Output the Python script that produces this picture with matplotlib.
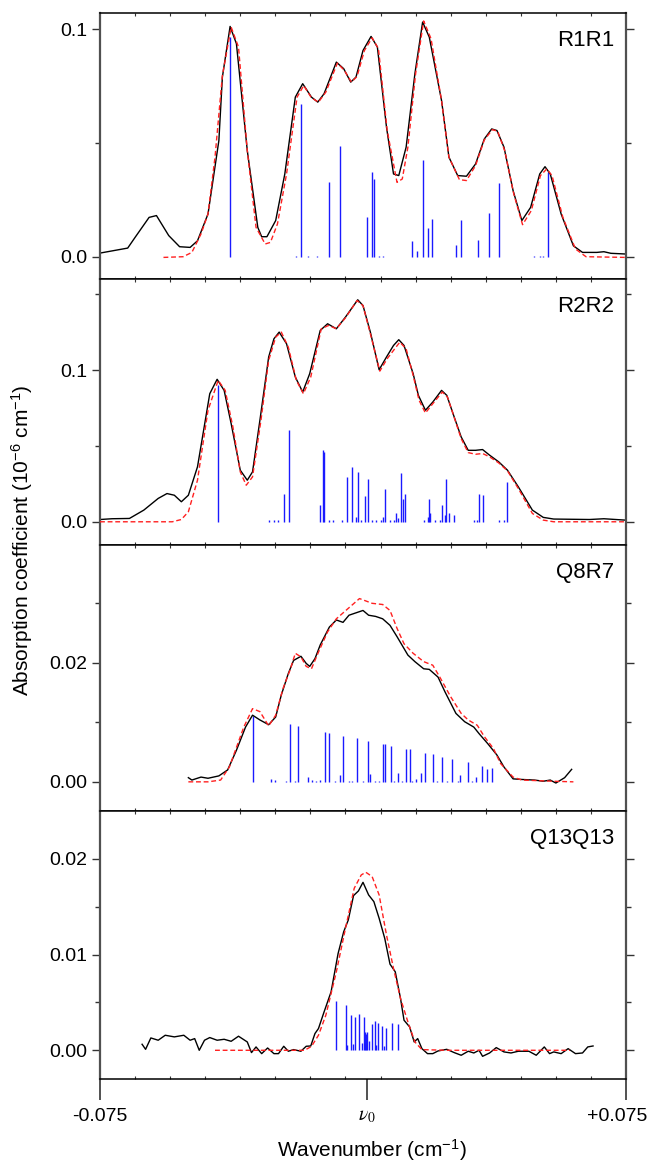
import matplotlib
matplotlib.use('Agg')
import matplotlib.pyplot as plt
from matplotlib.ticker import FixedLocator

plt.rcParams['font.family'] = ['Liberation Sans', 'DejaVu Sans']
plt.rcParams['mathtext.fontset'] = 'custom'
plt.rcParams['mathtext.rm'] = 'Liberation Sans'
plt.rcParams['mathtext.it'] = 'Liberation Sans:italic'
plt.rcParams['mathtext.bf'] = 'Liberation Sans:bold'

# ---------------- data (wavenumber offset in cm^-1, absorption in 1e-6 cm^-1) ----------------
panel_names = ['R1R1', 'R2R2', 'Q8R7', 'Q13Q13']

# R1R1
r1_obs_x = [-0.0750, -0.0671, -0.0650, -0.0610, -0.0589, -0.0554, -0.0523, -0.0493, -0.0472, -0.0442,
            -0.0411, -0.0401, -0.0379, -0.0361, -0.0330, -0.0300, -0.0289, -0.0274, -0.0249, -0.0223,
            -0.0193, -0.0172, -0.0147, -0.0129, -0.0111, -0.0076, -0.0055, -0.0035, -0.0020, 0.0000,
            0.0023, 0.0041, 0.0067, 0.0087, 0.0102, 0.0123, 0.0148, 0.0170, 0.0189, 0.0224,
            0.0245, 0.0270, 0.0295, 0.0321, 0.0346, 0.0367, 0.0382, 0.0402, 0.0428, 0.0453,
            0.0478, 0.0504, 0.0519, 0.0534, 0.0565, 0.0600, 0.0626, 0.0667, 0.0687, 0.0707, 0.0748]
r1_obs_y = [0.0016, 0.0038, 0.0085, 0.0173, 0.0181, 0.0093, 0.0044, 0.0041, 0.0070, 0.0188,
            0.0511, 0.0790, 0.1013, 0.0937, 0.0467, 0.0129, 0.0088, 0.0088, 0.0159, 0.0364,
            0.0702, 0.0761, 0.0702, 0.0680, 0.0717, 0.0856, 0.0827, 0.0768, 0.0790, 0.0907,
            0.0969, 0.0922, 0.0570, 0.0364, 0.0357, 0.0482, 0.0805, 0.1032, 0.0966, 0.0687,
            0.0438, 0.0357, 0.0354, 0.0408, 0.0518, 0.0562, 0.0555, 0.0482, 0.0291, 0.0159,
            0.0217, 0.0364, 0.0396, 0.0364, 0.0188, 0.0048, 0.0019, 0.0019, 0.0022, 0.0015, 0.0012]
r1_fit_x = [-0.0569, -0.0513, -0.0488, -0.0462, -0.0442, -0.0422, -0.0401, -0.0376, -0.0355, -0.0330,
            -0.0305, -0.0279, -0.0264, -0.0244, -0.0218, -0.0188, -0.0169, -0.0147, -0.0127, -0.0106,
            -0.0073, -0.0053, -0.0033, -0.0017, 0.0004, 0.0026, 0.0044, 0.0069, 0.0097, 0.0112,
            0.0128, 0.0150, 0.0173, 0.0194, 0.0224, 0.0245, 0.0275, 0.0295, 0.0321, 0.0346,
            0.0369, 0.0384, 0.0404, 0.0430, 0.0455, 0.0480, 0.0506, 0.0524, 0.0539, 0.0570,
            0.0606, 0.0636, 0.0748]
r1_fit_y = [-0.0003, 0.0000, 0.0019, 0.0100, 0.0188, 0.0438, 0.0797, 0.1010, 0.0922, 0.0467,
            0.0129, 0.0056, 0.0063, 0.0144, 0.0364, 0.0702, 0.0753, 0.0699, 0.0680, 0.0724,
            0.0852, 0.0819, 0.0768, 0.0793, 0.0907, 0.0963, 0.0915, 0.0555, 0.0327, 0.0342,
            0.0482, 0.0805, 0.1037, 0.0959, 0.0687, 0.0438, 0.0339, 0.0335, 0.0401, 0.0514,
            0.0559, 0.0552, 0.0467, 0.0276, 0.0141, 0.0203, 0.0357, 0.0386, 0.0357, 0.0173,
            0.0034, 0.0000, -0.0003]
r1_stick_x = [-0.0379, -0.0190, -0.0177, -0.0157, -0.0130, -0.0096, -0.0066, 0.0012, 0.0025, 0.0031,
              0.0046, 0.0056, 0.0140, 0.0153, 0.0170, 0.0185, 0.0198, 0.0265, 0.0280, 0.0328,
              0.0359, 0.0387, 0.0489, 0.0504, 0.0514, 0.0527]
r1_stick_h = [0.0966, 0.0005, 0.0670, 0.0005, 0.0005, 0.0327, 0.0489, 0.0173, 0.0372, 0.0342,
              0.0005, 0.0005, 0.0068, 0.0023, 0.0426, 0.0126, 0.0166, 0.0053, 0.0163, 0.0073,
              0.0194, 0.0323, 0.0004, 0.0004, 0.0004, 0.0372]

# R2R2
r2_obs_x = [-0.0750, -0.0716, -0.0666, -0.0625, -0.0584, -0.0559, -0.0538, -0.0518, -0.0498, -0.0472,
            -0.0437, -0.0416, -0.0396, -0.0376, -0.0350, -0.0330, -0.0315, -0.0294, -0.0269, -0.0254,
            -0.0239, -0.0218, -0.0193, -0.0172, -0.0152, -0.0122, -0.0101, -0.0076, -0.0050, -0.0015,
            0.0000, 0.0021, 0.0046, 0.0067, 0.0087, 0.0102, 0.0117, 0.0143, 0.0158, 0.0178,
            0.0199, 0.0224, 0.0239, 0.0260, 0.0280, 0.0300, 0.0321, 0.0341, 0.0361, 0.0387,
            0.0412, 0.0443, 0.0483, 0.0514, 0.0544, 0.0646, 0.0687, 0.0748]
r2_obs_y = [0.0015, 0.0020, 0.0022, 0.0077, 0.0154, 0.0186, 0.0175, 0.0132, 0.0175, 0.0362,
            0.0844, 0.0939, 0.0866, 0.0647, 0.0340, 0.0274, 0.0329, 0.0669, 0.1086, 0.1206,
            0.1250, 0.1173, 0.0954, 0.0855, 0.0976, 0.1261, 0.1305, 0.1272, 0.1349, 0.1463,
            0.1425, 0.1250, 0.1002, 0.1086, 0.1162, 0.1200, 0.1162, 0.0976, 0.0833, 0.0735,
            0.0789, 0.0866, 0.0833, 0.0691, 0.0559, 0.0471, 0.0471, 0.0476, 0.0439, 0.0395,
            0.0340, 0.0230, 0.0077, 0.0029, 0.0018, 0.0015, 0.0020, 0.0011]
r2_fit_x = [-0.0750, -0.0544, -0.0518, -0.0498, -0.0472, -0.0442, -0.0413, -0.0393, -0.0371, -0.0350,
            -0.0333, -0.0315, -0.0291, -0.0269, -0.0249, -0.0233, -0.0213, -0.0190, -0.0170, -0.0149,
            -0.0119, -0.0098, -0.0076, -0.0050, -0.0017, 0.0000, 0.0021, 0.0048, 0.0069, 0.0105,
            0.0123, 0.0143, 0.0160, 0.0178, 0.0199, 0.0226, 0.0241, 0.0280, 0.0300, 0.0321,
            0.0341, 0.0361, 0.0387, 0.0412, 0.0443, 0.0483, 0.0514, 0.0544, 0.0748]
r2_fit_y = [0.0000, 0.0000, 0.0015, 0.0066, 0.0274, 0.0735, 0.0932, 0.0866, 0.0625, 0.0329,
            0.0241, 0.0296, 0.0669, 0.1064, 0.1217, 0.1250, 0.1151, 0.0932, 0.0844, 0.0954,
            0.1272, 0.1294, 0.1272, 0.1344, 0.1458, 0.1425, 0.1239, 0.0993, 0.1075, 0.1184,
            0.1140, 0.0965, 0.0800, 0.0717, 0.0778, 0.0855, 0.0822, 0.0548, 0.0456, 0.0445,
            0.0450, 0.0428, 0.0388, 0.0336, 0.0219, 0.0055, 0.0011, 0.0000, 0.0000]
r2_stick_x = [-0.0414, -0.0269, -0.0254, -0.0242, -0.0225, -0.0210, -0.0122, -0.0114, -0.0111, -0.0096,
              -0.0086, -0.0061, -0.0045, -0.0032, -0.0020, -0.0014, -0.0005, 0.0006, 0.0015, 0.0026,
              0.0036, 0.0051, 0.0058, 0.0062, 0.0077, 0.0087, 0.0095, 0.0099, 0.0109, 0.0115,
              0.0119, 0.0173, 0.0184, 0.0187, 0.0190, 0.0204, 0.0219, 0.0226, 0.0234, 0.0237,
              0.0246, 0.0260, 0.0316, 0.0326, 0.0331, 0.0341, 0.0387, 0.0402, 0.0410]
r2_stick_h = [0.0899, 0.0010, 0.0010, 0.0010, 0.0186, 0.0603, 0.0110, 0.0471, 0.0461, 0.0010,
              0.0010, 0.0011, 0.0292, 0.0362, 0.0033, 0.0325, 0.0010, 0.0169, 0.0281, 0.0010,
              0.0010, 0.0010, 0.0033, 0.0215, 0.0010, 0.0010, 0.0059, 0.0022, 0.0322, 0.0149,
              0.0182, 0.0010, 0.0033, 0.0149, 0.0055, 0.0010, 0.0010, 0.0110, 0.0044, 0.0281,
              0.0061, 0.0044, 0.0010, 0.0010, 0.0182, 0.0175, 0.0010, 0.0010, 0.0261]

# Q8R7
q8_obs_x = [-0.0498, -0.0488, -0.0462, -0.0442, -0.0411, -0.0386, -0.0361, -0.0335, -0.0315, -0.0294,
            -0.0269, -0.0249, -0.0233, -0.0213, -0.0198, -0.0177, -0.0162, -0.0152, -0.0137, -0.0122,
            -0.0096, -0.0076, -0.0057, -0.0040, -0.0020, 0.0000, 0.0016, 0.0036, 0.0056, 0.0077,
            0.0097, 0.0128, 0.0148, 0.0173, 0.0189, 0.0214, 0.0234, 0.0265, 0.0290, 0.0316,
            0.0331, 0.0356, 0.0382, 0.0402, 0.0428, 0.0453, 0.0489, 0.0514, 0.0534, 0.0550,
            0.0575, 0.0595]
q8_obs_y = [0.0007, 0.0003, 0.0008, 0.0006, 0.0010, 0.0020, 0.0053, 0.0092, 0.0112, 0.0104,
            0.0096, 0.0109, 0.0146, 0.0182, 0.0204, 0.0211, 0.0199, 0.0194, 0.0207, 0.0230,
            0.0260, 0.0272, 0.0268, 0.0280, 0.0284, 0.0288, 0.0280, 0.0278, 0.0274, 0.0263,
            0.0244, 0.0213, 0.0202, 0.0190, 0.0189, 0.0176, 0.0151, 0.0115, 0.0101, 0.0092,
            0.0081, 0.0064, 0.0045, 0.0025, 0.0005, 0.0004, 0.0003, 0.0001, 0.0003, -0.0002,
            0.0007, 0.0021]
q8_fit_x = [-0.0498, -0.0442, -0.0406, -0.0381, -0.0340, -0.0315, -0.0294, -0.0269, -0.0249, -0.0228,
            -0.0208, -0.0193, -0.0177, -0.0162, -0.0147, -0.0127, -0.0101, -0.0076, -0.0045, -0.0010,
            0.0026, 0.0056, 0.0077, 0.0097, 0.0117, 0.0143, 0.0173, 0.0199, 0.0219, 0.0250,
            0.0280, 0.0300, 0.0326, 0.0346, 0.0372, 0.0392, 0.0428, 0.0453, 0.0544, 0.0600]
q8_fit_y = [0.0000, 0.0000, 0.0003, 0.0025, 0.0092, 0.0123, 0.0118, 0.0094, 0.0112, 0.0157,
            0.0188, 0.0216, 0.0210, 0.0194, 0.0190, 0.0218, 0.0252, 0.0274, 0.0290, 0.0308,
            0.0300, 0.0298, 0.0288, 0.0258, 0.0232, 0.0216, 0.0202, 0.0196, 0.0176, 0.0143,
            0.0115, 0.0104, 0.0095, 0.0076, 0.0056, 0.0031, 0.0008, 0.0003, 0.0001, 0.0000]
q8_stick_x = [-0.0313, -0.0262, -0.0251, -0.0220, -0.0208, -0.0195, -0.0186, -0.0157, -0.0145, -0.0135,
              -0.0122, -0.0108, -0.0096, -0.0080, -0.0066, -0.0057, -0.0040, -0.0030, -0.0018, 0.0000,
              0.0015, 0.0021, 0.0035, 0.0045, 0.0058, 0.0064, 0.0079, 0.0088, 0.0099, 0.0110,
              0.0122, 0.0135, 0.0140, 0.0151, 0.0166, 0.0176, 0.0199, 0.0210, 0.0224, 0.0240,
              0.0253, 0.0270, 0.0277, 0.0299, 0.0310, 0.0321, 0.0338, 0.0353, 0.0369]
q8_stick_h = [0.0110, 0.0004, 0.0003, 0.0002, 0.0097, 0.0002, 0.0094, 0.0008, 0.0003, 0.0002,
              0.0003, 0.0084, 0.0082, 0.0002, 0.0011, 0.0077, 0.0002, 0.0002, 0.0073, 0.0002,
              0.0068, 0.0014, 0.0002, 0.0002, 0.0063, 0.0063, 0.0060, 0.0002, 0.0015, 0.0002,
              0.0055, 0.0055, 0.0002, 0.0004, 0.0015, 0.0048, 0.0046, 0.0002, 0.0042, 0.0002,
              0.0039, 0.0002, 0.0011, 0.0034, 0.0002, 0.0008, 0.0027, 0.0021, 0.0024]

# Q13Q13
q13_obs_x = [-0.0630, -0.0620, -0.0605, -0.0584, -0.0564, -0.0538, -0.0511, -0.0493, -0.0480, -0.0467,
             -0.0452, -0.0437, -0.0416, -0.0396, -0.0376, -0.0355, -0.0330, -0.0318, -0.0305, -0.0289,
             -0.0272, -0.0254, -0.0241, -0.0226, -0.0213, -0.0198, -0.0177, -0.0162, -0.0149, -0.0137,
             -0.0127, -0.0111, -0.0091, -0.0071, -0.0055, -0.0042, -0.0027, -0.0013, 0.0000, 0.0016,
             0.0031, 0.0046, 0.0062, 0.0077, 0.0092, 0.0107, 0.0117, 0.0133, 0.0146, 0.0156,
             0.0168, 0.0184, 0.0199, 0.0214, 0.0239, 0.0260, 0.0280, 0.0300, 0.0316, 0.0331,
             0.0341, 0.0361, 0.0380, 0.0402, 0.0422, 0.0443, 0.0473, 0.0494, 0.0517, 0.0532,
             0.0544, 0.0565, 0.0585, 0.0606, 0.0626, 0.0641, 0.0656]
q13_obs_y = [0.00063, 0.00010, 0.00129, 0.00105, 0.00157, 0.00140, 0.00157, 0.00105, 0.00122, 0.00000,
             0.00105, 0.00133, 0.00105, 0.00115, 0.00094, 0.00147, 0.00087, -0.00024, 0.00035, -0.00035,
             0.00024, -0.00035, -0.00035, 0.00042, -0.00010, 0.00007, -0.00010, 0.00042, 0.00045, 0.00175,
             0.00227, 0.00401, 0.00611, 0.01012, 0.01239, 0.01361, 0.01616, 0.01665, 0.01755, 0.01623,
             0.01553, 0.01379, 0.01169, 0.00900, 0.00820, 0.00541, 0.00314, 0.00244, 0.00087, 0.00122,
             0.00017, -0.00035, -0.00035, -0.00007, 0.00010, -0.00024, -0.00052, -0.00010, -0.00028, 0.00000,
             -0.00063, -0.00028, 0.00028, -0.00017, -0.00028, -0.00010, -0.00010, -0.00052, 0.00035, -0.00035,
             -0.00017, -0.00035, 0.00017, -0.00035, -0.00028, 0.00035, 0.00045]
q13_fit_x = [-0.0422, -0.0167, -0.0147, -0.0127, -0.0106, -0.0076, -0.0050, -0.0025, -0.0005, 0.0008,
             0.0026, 0.0046, 0.0067, 0.0087, 0.0107, 0.0128, 0.0148, 0.0168, 0.0239, 0.0590]
q13_fit_y = [0.0000, 0.0000, 0.0004, 0.00157, 0.00366, 0.0082, 0.01274, 0.01693, 0.01832, 0.0186,
             0.01815, 0.01623, 0.01204, 0.00855, 0.00541, 0.00297, 0.00087, 0.00007, 0.0000, 0.0000]
q13_stick_x = [-0.0076, -0.0049, -0.0045, -0.0033, -0.0028, -0.0022, -0.0011, -0.0004, 0.0002, 0.0006,
               0.0009, 0.0012, 0.0018, 0.0026, 0.0033, 0.0038, 0.0044, 0.0054, 0.0060, 0.0065,
               0.0084, 0.0099]
q13_stick_h = [0.0052, 0.0047, 0.0006, 0.0037, 0.0007, 0.0035, 0.0038, 0.0008, 0.0035, 0.0019,
               0.0017, 0.0019, 0.0010, 0.0027, 0.0031, 0.0006, 0.0029, 0.0025, 0.0005, 0.0023,
               0.0029, 0.0027]

# axis tick values / labels
y_major = [[0.0, 0.1], [0.0, 0.1], [0.00, 0.02], [0.00, 0.01, 0.02]]
y_major_labels = [['0.0', '0.1'], ['0.0', '0.1'], ['0.00', '0.02'], ['0.00', '0.01', '0.02']]
y_minor = [[0.05], [0.05, 0.15], [0.01, 0.03], [0.005, 0.015]]
y_limits = [(-0.0098, 0.1072), (-0.0153, 0.1600), (-0.0049, 0.0398), (-0.0030, 0.0250)]
x_limits = (-0.075, 0.075)
x_major = [-0.075, 0.0011, 0.075]
x_labels = ['-0.075', r'$\nu_0$', '+0.075']
x_minor = [-0.065, -0.055, -0.045, -0.035, -0.025, -0.015, -0.005,
           0.005, 0.015, 0.025, 0.035, 0.045, 0.055, 0.065]

panels = [
    (r1_obs_x, r1_obs_y, r1_fit_x, r1_fit_y, r1_stick_x, r1_stick_h),
    (r2_obs_x, r2_obs_y, r2_fit_x, r2_fit_y, r2_stick_x, r2_stick_h),
    (q8_obs_x, q8_obs_y, q8_fit_x, q8_fit_y, q8_stick_x, q8_stick_h),
    (q13_obs_x, q13_obs_y, q13_fit_x, q13_fit_y, q13_stick_x, q13_stick_h),
]

# ---------------- figure ----------------
W, H = 650, 1165
fig = plt.figure(figsize=(W / 100, H / 100), dpi=100)
ax_left, ax_right = 100, 626
tops = [13, 279, 545, 811]
bottoms = [279, 545, 811, 1079]
spine_gray = '#505050'
fs = 14

axes = []
for i, (t, b) in enumerate(zip(tops, bottoms)):
    ax = fig.add_axes([ax_left / W, 1 - b / H, (ax_right - ax_left) / W, (b - t) / H])
    axes.append(ax)
    ox, oy, fx, fy, sx, sh = panels[i]
    ax.vlines(sx, 0, sh, color='#1a1aff', lw=1.0, zorder=1)
    ax.plot(ox, oy, color='black', lw=1.0, zorder=2)
    ax.plot(fx, fy, color='#ff2020', lw=1.0, ls=(0, (3.5, 2)), zorder=3)
    ax.set_xlim(*x_limits)
    ax.set_ylim(*y_limits[i])

    ax.set_yticks(y_major[i])
    ax.set_yticklabels(y_major_labels[i], fontsize=fs)
    ax.yaxis.set_minor_locator(FixedLocator(y_minor[i]))
    ax.tick_params(axis='y', which='major', direction='out', length=6, width=1.0,
                   left=True, right=True, labelleft=True, labelright=False,
                   color='#333333', pad=3)
    ax.tick_params(axis='y', which='minor', direction='out', length=3.5, width=1.0,
                   left=True, right=True, color='#333333')

    ax.xaxis.set_minor_locator(FixedLocator(x_minor))
    ax.tick_params(axis='x', which='minor', direction='in', length=2.5, width=0.8,
                   top=True, bottom=True, color='#333333')
    if i < 3:
        ax.set_xticks([])
    else:
        ax.set_xticks(x_major)
        ax.set_xticklabels([''] * len(x_major))
        ax.tick_params(axis='x', which='major', direction='out', length=15, width=1.2,
                       bottom=True, top=False, color='#333333')
        # tick labels placed just below the long ticks (last one nudged inside the figure)
        offsets = [0, 0, -6]
        for xv, lab, dx in zip(x_major, x_labels, offsets):
            kw = dict(math_fontfamily='stix') if lab.startswith('$') else {}
            ax.annotate(lab, xy=(xv, 0), xycoords=('data', 'axes fraction'),
                        xytext=(dx, -21), textcoords='offset points', ha='center', va='top',
                        fontsize=fs, **kw)

    for side in ('left', 'right'):
        ax.spines[side].set_color(spine_gray)
        ax.spines[side].set_linewidth(1.6)
    for side in ('top', 'bottom'):
        ax.spines[side].set_color('black')
        ax.spines[side].set_linewidth(1.1)

    ax.text(0.977, 0.935, panel_names[i], transform=ax.transAxes, ha='right', va='top',
            fontsize=16)

fig.text(372 / W, 1 - 1150 / H, 'Wavenumber (cm$^{-1}$)',
         ha='center', va='center', fontsize=15)
fig.text(0.034, 1 - 540 / H, 'Absorption coefficient (10$^{-6}$ cm$^{-1}$)',
         rotation=90, ha='center', va='center', fontsize=15)

fig.savefig('out.png', dpi=100)
